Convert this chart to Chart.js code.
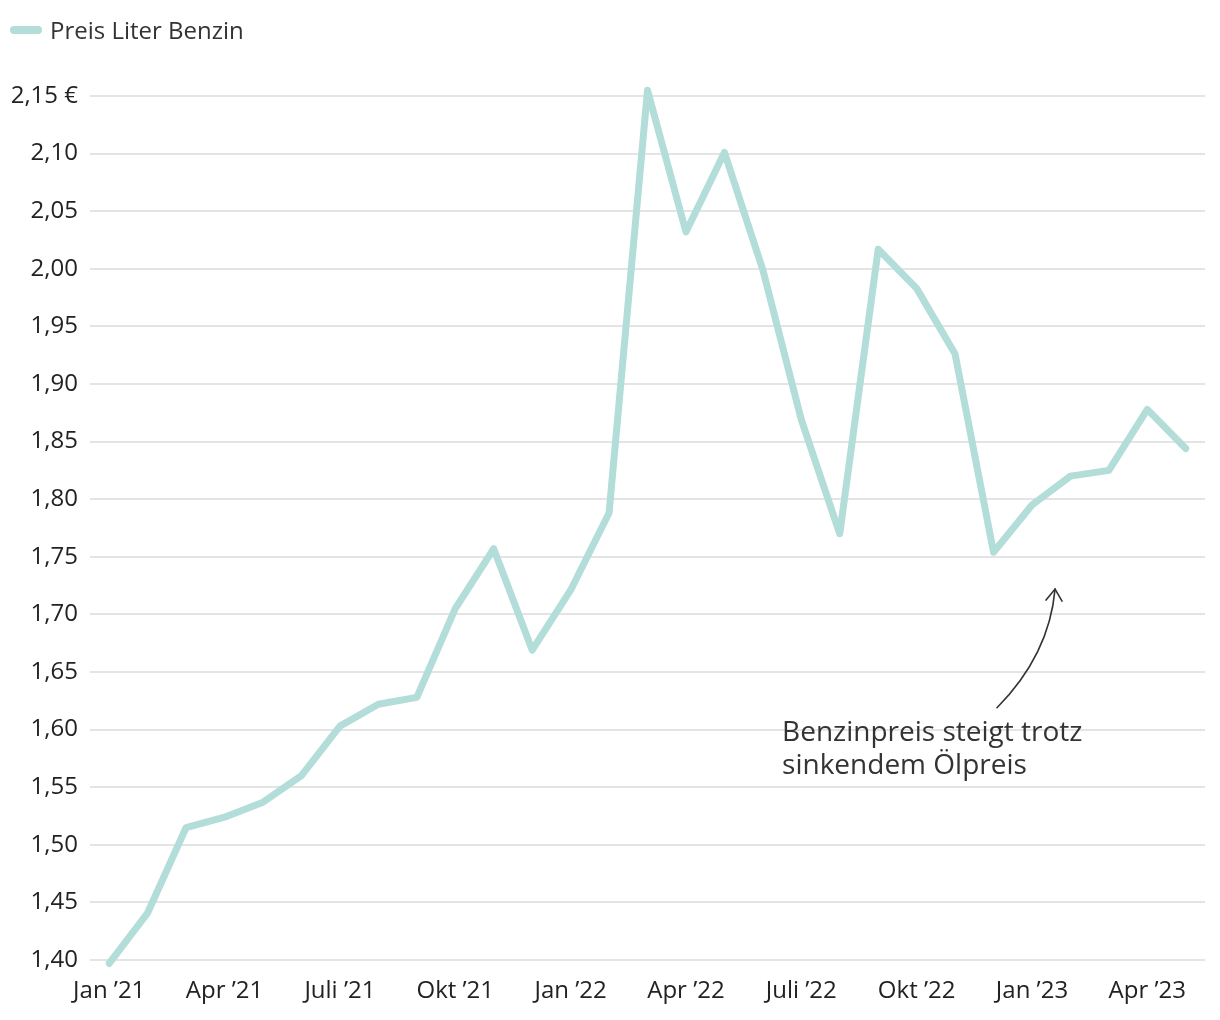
<!DOCTYPE html>
<html>
<head>
<meta charset="utf-8">
<script src="https://cdn.jsdelivr.net/npm/chart.js@4"></script>
<style>
  html, body { margin: 0; padding: 0; background: #fff; }
  #wrap { width: 1220px; height: 1020px; position: relative; }
</style>
</head>
<body>
<div id="wrap"><canvas id="c" width="1220" height="1020"></canvas></div>
<script>
const months = ['Jan ’21','Feb ’21','März ’21','Apr ’21','Mai ’21','Juni ’21','Juli ’21','Aug ’21','Sep ’21','Okt ’21','Nov ’21','Dez ’21',
  'Jan ’22','Feb ’22','März ’22','Apr ’22','Mai ’22','Juni ’22','Juli ’22','Aug ’22','Sep ’22','Okt ’22','Nov ’22','Dez ’22',
  'Jan ’23','Feb ’23','März ’23','Apr ’23','Mai ’23'];
const benzinPrice = [1.397,1.441,1.515,1.524,1.537,1.560,1.603,1.622,1.628,1.705,1.757,1.669,
  1.721,1.788,2.155,2.032,2.101,1.999,1.869,1.770,2.017,1.983,1.926,1.754,
  1.795,1.820,1.825,1.878,1.844];
const seriesName = 'Preis Liter Benzin';
const yMin = 1.40, yMax = 2.15, yStep = 0.05;
const annotationLines = ['Benzinpreis steigt trotz', 'sinkendem Ölpreis'];

const FONT = '"Open Sans", "Noto Sans", sans-serif';
const LINE_COLOR = '#b2ddd8';

const customLegend = {
  id: 'customLegend',
  afterDraw(chart) {
    const ctx = chart.ctx;
    ctx.save();
    chart.data.datasets.forEach(ds => {
      ctx.strokeStyle = ds.borderColor;
      ctx.lineWidth = 8;
      ctx.lineCap = 'round';
      ctx.beginPath();
      ctx.moveTo(14, 30);
      ctx.lineTo(38, 30);
      ctx.stroke();
      ctx.fillStyle = '#333';
      ctx.font = '24px ' + FONT;
      ctx.textBaseline = 'middle';
      ctx.textAlign = 'left';
      ctx.fillText(ds.label, 50, 32);
    });
    ctx.restore();
  }
};

const annotationPlugin = {
  id: 'annot',
  afterDatasetsDraw(chart) {
    const ctx = chart.ctx;
    const xs = chart.scales.x, ys = chart.scales.y;
    const X = v => { const a = xs.getPixelForValue(Math.floor(v)), b = xs.getPixelForValue(Math.floor(v) + 1); return a + (b - a) * (v - Math.floor(v)); };
    const Y = v => ys.getPixelForValue(v);
    ctx.save();
    ctx.strokeStyle = '#333';
    ctx.lineWidth = 1.6;
    ctx.lineCap = 'round';
    const sx = X(23.09), sy = Y(1.619);
    const cx = X(24.45), cy = Y(1.665);
    const tx = X(24.6), ty = Y(1.722);
    ctx.beginPath();
    ctx.moveTo(sx, sy);
    ctx.quadraticCurveTo(cx, cy, tx, ty);
    ctx.stroke();
    ctx.beginPath();
    ctx.moveTo(tx - 9, ty + 11);
    ctx.lineTo(tx, ty);
    ctx.lineTo(tx + 7, ty + 12);
    ctx.stroke();
    ctx.fillStyle = '#333';
    ctx.font = '28px ' + FONT;
    ctx.textBaseline = 'middle';
    ctx.textAlign = 'left';
    const lx = X(17.5);
    annotationLines.forEach((t, i) => ctx.fillText(t, lx, Y(1.597) + i * 33));
    ctx.restore();
  }
};

new Chart(document.getElementById('c'), {
  type: 'line',
  data: {
    labels: months,
    datasets: [{
      label: seriesName,
      data: benzinPrice,
      borderColor: LINE_COLOR,
      backgroundColor: LINE_COLOR,
      borderWidth: 7,
      pointRadius: 0,
      tension: 0,
      borderCapStyle: 'round',
      borderJoinStyle: 'round',
      clip: false
    }]
  },
  options: {
    responsive: false,
    animation: false,
    layout: { padding: { left: 10, right: 15, top: 96, bottom: 0 } },
    plugins: {
      legend: { display: false },
      tooltip: { enabled: false }
    },
    scales: {
      x: {
        offset: true,
        grid: { display: false },
        border: { display: false },
        afterFit(scale) { scale.height = 60; },
        ticks: {
          autoSkip: false,
          maxRotation: 0,
          color: '#222',
          font: { family: FONT, size: 24 },
          padding: 9,
          callback: function(v, i) { return i % 3 === 0 ? months[i] : ''; }
        }
      },
      y: {
        min: yMin, max: yMax,
        grid: { color: '#e4e4e4', lineWidth: 2, drawTicks: false },
        border: { display: false },
        afterFit(scale) { scale.width = 80; },
        ticks: {
          stepSize: yStep,
          color: '#222',
          font: { family: FONT, size: 24 },
          padding: 12,
          callback: function(v) {
            const s = v.toFixed(2).replace('.', ',');
            return Math.abs(v - yMax) < 1e-6 ? s + ' €' : s;
          }
        }
      }
    }
  },
  plugins: [customLegend, annotationPlugin]
});
</script>
</body>
</html>
